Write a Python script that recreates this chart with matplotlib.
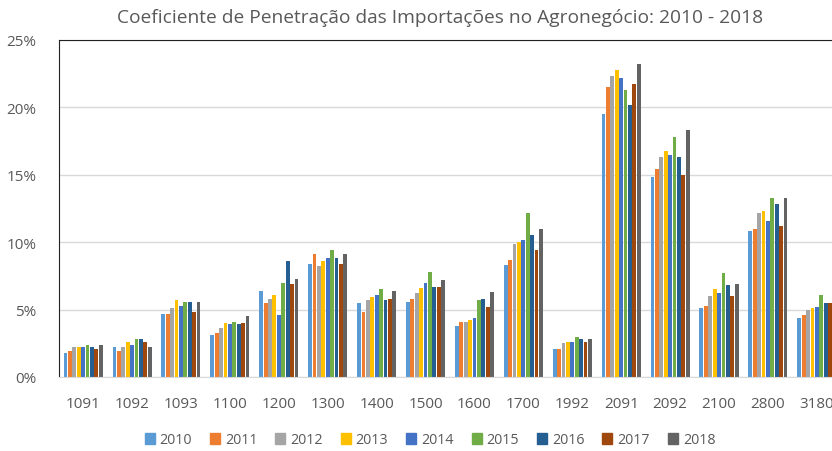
import numpy as np
import matplotlib as mpl
mpl.use('Agg')
import matplotlib.pyplot as plt
from matplotlib.patches import Patch

plt.rcParams['font.family'] = ['Open Sans', 'DejaVu Sans']

categories = ['1091', '1092', '1093', '1100', '1200', '1300', '1400', '1500',
              '1600', '1700', '1992', '2091', '2092', '2100', '2800', '3180']
years = ['2010', '2011', '2012', '2013', '2014', '2015', '2016', '2017', '2018']

# valores em %, uma lista por categoria, 2010..2018
v1091 = [1.8, 1.9, 2.2, 2.2, 2.2, 2.4, 2.2, 2.1, 2.4]
v1092 = [2.2, 1.9, 2.2, 2.6, 2.4, 2.8, 2.8, 2.6, 2.2]
v1093 = [4.7, 4.7, 5.1, 5.7, 5.3, 5.6, 5.6, 4.8, 5.6]
v1100 = [3.1, 3.3, 3.6, 4.0, 3.9, 4.1, 3.9, 4.0, 4.5]
v1200 = [6.4, 5.5, 5.8, 6.1, 4.6, 7.0, 8.6, 6.9, 7.3]
v1300 = [8.4, 9.1, 8.2, 8.6, 8.8, 9.4, 8.8, 8.4, 9.1]
v1400 = [5.5, 4.8, 5.7, 5.9, 6.1, 6.5, 5.7, 5.8, 6.4]
v1500 = [5.6, 5.8, 6.2, 6.6, 7.0, 7.8, 6.7, 6.7, 7.2]
v1600 = [3.8, 4.1, 4.1, 4.2, 4.4, 5.7, 5.8, 5.2, 6.3]
v1700 = [8.3, 8.7, 9.9, 10.0, 10.2, 12.2, 10.5, 9.4, 11.0]
v1992 = [2.1, 2.1, 2.5, 2.6, 2.6, 3.0, 2.8, 2.6, 2.8]
v2091 = [19.5, 21.5, 22.3, 22.8, 22.2, 21.3, 20.2, 21.7, 23.2]
v2092 = [14.8, 15.4, 16.3, 16.8, 16.5, 17.8, 16.3, 15.0, 18.3]
v2100 = [5.1, 5.3, 6.0, 6.5, 6.2, 7.7, 6.8, 6.0, 6.9]
v2800 = [10.8, 11.0, 12.2, 12.3, 11.6, 13.3, 12.8, 11.2, 13.3]
v3180 = [4.4, 4.6, 5.0, 5.1, 5.2, 6.1, 5.5, 5.5, 5.5]

data = np.array([v1091, v1092, v1093, v1100, v1200, v1300, v1400, v1500,
                 v1600, v1700, v1992, v2091, v2092, v2100, v2800, v3180])

colors = ['#5B9BD5', '#ED7D31', '#A5A5A5', '#FFC000', '#4472C4',
          '#70AD47', '#255E91', '#9E480E', '#636363']

fig = plt.figure(figsize=(8.32, 4.52), dpi=100)
ax = fig.add_axes([58.7 / 832, 1 - 378 / 452, 1 - 58.7 / 832, (378 - 41) / 452])

x = np.arange(len(categories))
step = 0.09
w = 0.078
for j, yr in enumerate(years):
    ax.bar(x + (j - 4) * step, data[:, j], width=w, color=colors[j], zorder=2)

ax.set_xlim(-0.5, 15.31)
ax.set_ylim(0, 25)
ax.set_yticks([0, 5, 10, 15, 20, 25])
ax.set_yticklabels(['%d%%' % t for t in [0, 5, 10, 15, 20, 25]])
ax.set_xticks(x)
ax.set_xticklabels(categories)
ax.tick_params(length=0, labelsize=11, colors='#595959')
ax.tick_params(axis='x', pad=14)
ax.tick_params(axis='y', pad=16)
ax.grid(axis='y', color='#d9d9d9', lw=1, zorder=0)
ax.set_axisbelow(True)

ax.spines['right'].set_visible(False)
ax.spines['top'].set_color('#222222')
ax.spines['left'].set_color('#222222')
ax.spines['bottom'].set_color('#d9d9d9')

fig.text(440 / 832, 1 - 18 / 452, 'Coeficiente de Penetração das Importações no Agronegócio: 2010 - 2018',
         ha='center', va='center', fontsize=13.8, color='#595959')

handles = [Patch(color=c, label=y) for c, y in zip(colors, years)]
fig.legend(handles=handles, loc='center', bbox_to_anchor=(430 / 832, 1 - 441 / 452), ncol=9,
           frameon=False, handlelength=0.7, handleheight=0.7, handletextpad=0.35,
           columnspacing=1.25, fontsize=10.3, labelcolor='#595959')

plt.savefig('out.png')
plt.close()
